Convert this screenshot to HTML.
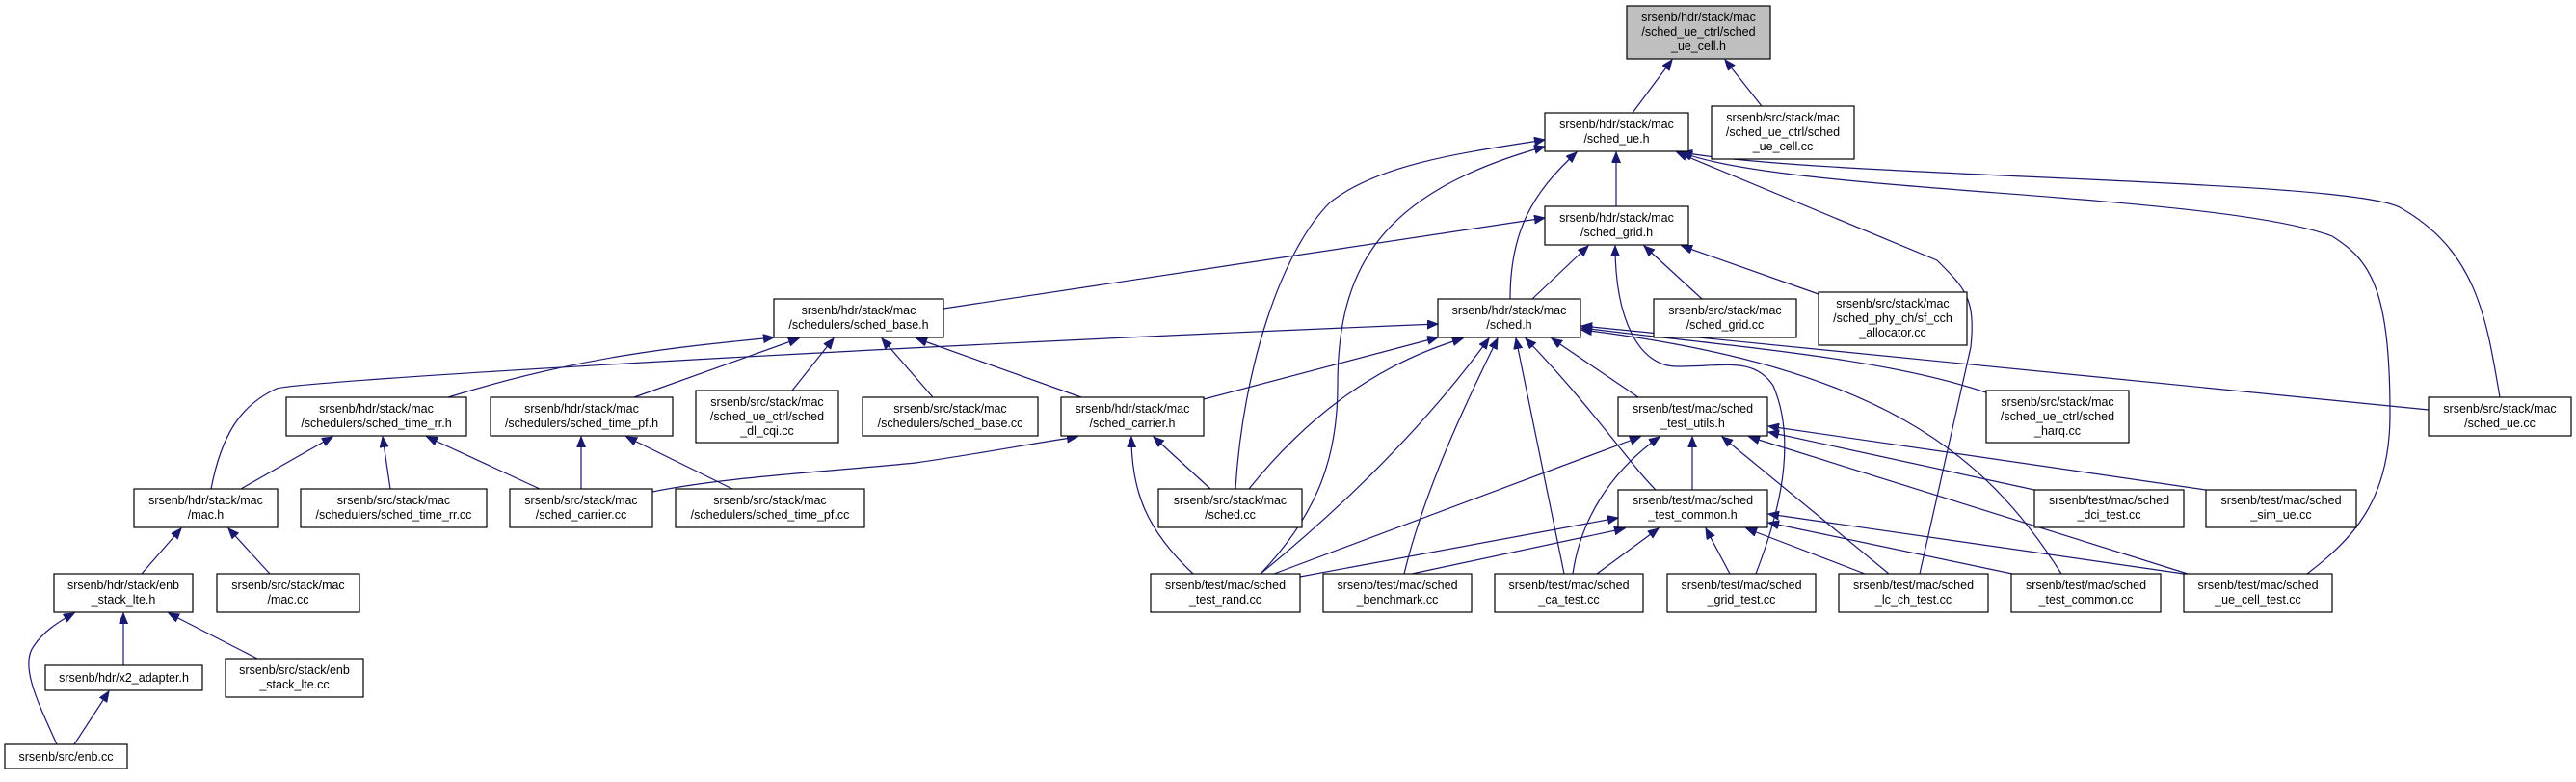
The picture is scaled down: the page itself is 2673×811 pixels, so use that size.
<!DOCTYPE html>
<html><head><meta charset="utf-8"><style>
html,body{margin:0;padding:0;background:#fff;}
svg{display:block;}
text{font-family:"Liberation Sans",Arial,sans-serif;font-size:12.5px;fill:#000;text-anchor:middle;}
.n{fill:#fff;stroke:#000;stroke-width:1.2;}
.e{fill:none;stroke:#191970;stroke-width:1.2;}
</style></head><body>
<svg width="2673" height="811" viewBox="0 0 2673 811" xmlns="http://www.w3.org/2000/svg">
<defs>
<marker id="a" markerUnits="userSpaceOnUse" markerWidth="12" markerHeight="10" refX="11" refY="4.5" orient="auto">
<path d="M0,0 L11,4.5 L0,9 z" fill="#191970" stroke="#191970"/>
</marker>
</defs>
<g class="edges">
<!-- to top -->
<path class="e" marker-end="url(#a)" d="M1694,117 L1735,62"/>
<path class="e" marker-end="url(#a)" d="M1828,110 L1790,62"/>
<!-- to sched_ue.h -->
<path class="e" marker-end="url(#a)" d="M1677,214 L1677,158"/>
<path class="e" marker-end="url(#a)" d="M1567,310 C1567,240 1590,200 1636,158"/>
<path class="e" marker-end="url(#a)" d="M1282,507 C1290,380 1330,260 1380,210 C1430,170 1520,158 1603,145"/>
<path class="e" marker-end="url(#a)" d="M1308,595 C1370,530 1388,470 1388,400 C1388,280 1430,200 1603,152"/>
<path class="e" marker-end="url(#a)" d="M2594,412 C2580,330 2570,260 2490,215 C2430,185 1900,185 1745,158"/>
<path class="e" marker-end="url(#a)" d="M2394,595 C2440,560 2480,520 2480,430 C2480,300 2460,270 2420,245 C2300,200 1850,200 1745,158"/>
<path class="e" marker-end="url(#a)" d="M1992,595 L2045,360 C2050,310 2040,300 2010,270 L1740,158"/>
<!-- to sched_grid.h -->
<path class="e" marker-end="url(#a)" d="M979,320 L1603,226"/>
<path class="e" marker-end="url(#a)" d="M1590,310 L1648,255"/>
<path class="e" marker-end="url(#a)" d="M1822,595 C1835,560 1870,470 1840,400 C1820,370 1790,380 1740,380 C1700,380 1676,330 1676,255"/>
<path class="e" marker-end="url(#a)" d="M1766,310 L1706,255"/>
<path class="e" marker-end="url(#a)" d="M1887,305 L1745,255"/>
<!-- to sched.h -->
<path class="e" marker-end="url(#a)" d="M219,507 C230,450 250,420 287,403 C310,395 900,360 1492,336"/>
<path class="e" marker-end="url(#a)" d="M1249,414 L1492,350"/>
<path class="e" marker-end="url(#a)" d="M1296,507 C1350,440 1420,380 1518,351"/>
<path class="e" marker-end="url(#a)" d="M1308,595 C1400,520 1480,440 1545,351"/>
<path class="e" marker-end="url(#a)" d="M1457,595 C1480,500 1530,400 1554,351"/>
<path class="e" marker-end="url(#a)" d="M1623,595 L1573,351"/>
<path class="e" marker-end="url(#a)" d="M1700,412 L1610,351"/>
<path class="e" marker-end="url(#a)" d="M1718,508 C1690,480 1650,420 1583,351"/>
<path class="e" marker-end="url(#a)" d="M2061,407 C1950,370 1800,360 1641,340"/>
<path class="e" marker-end="url(#a)" d="M2520,425 L1641,338"/>
<path class="e" marker-end="url(#a)" d="M2139,595 C2060,470 1950,380 1641,342"/>
<!-- to sched_base.h -->
<path class="e" marker-end="url(#a)" d="M465,412 C600,370 700,360 803,350"/>
<path class="e" marker-end="url(#a)" d="M658,412 L829,351"/>
<path class="e" marker-end="url(#a)" d="M822,405 L865,351"/>
<path class="e" marker-end="url(#a)" d="M968,412 L915,351"/>
<path class="e" marker-end="url(#a)" d="M1122,412 L951,351"/>
<!-- to time_rr.h -->
<path class="e" marker-end="url(#a)" d="M250,507 L345,453"/>
<path class="e" marker-end="url(#a)" d="M405,507 L397,453"/>
<path class="e" marker-end="url(#a)" d="M560,507 L443,453"/>
<!-- to time_pf.h -->
<path class="e" marker-end="url(#a)" d="M603,507 L603,453"/>
<path class="e" marker-end="url(#a)" d="M760,507 L650,453"/>
<!-- to carrier.h -->
<path class="e" marker-end="url(#a)" d="M677,510 C750,495 850,490 950,480 C1020,470 1070,460 1118,453"/>
<path class="e" marker-end="url(#a)" d="M1256,507 L1197,453"/>
<path class="e" marker-end="url(#a)" d="M1238,595 C1190,550 1174,510 1174,453"/>
<!-- mac.h -->
<path class="e" marker-end="url(#a)" d="M147,595 L188,548"/>
<path class="e" marker-end="url(#a)" d="M280,595 L237,548"/>
<!-- enb_stack_lte.h -->
<path class="e" marker-end="url(#a)" d="M128,690 L128,636"/>
<path class="e" marker-end="url(#a)" d="M267,683 L175,636"/>
<path class="e" marker-end="url(#a)" d="M59,772 C40,730 20,690 35,670 C45,655 60,645 77,636"/>
<path class="e" marker-end="url(#a)" d="M77,772 L113,717"/>
<!-- test_utils.h -->
<path class="e" marker-end="url(#a)" d="M1322,595 L1702,453"/>
<path class="e" marker-end="url(#a)" d="M1632,595 C1640,540 1670,490 1722,453"/>
<path class="e" marker-end="url(#a)" d="M1756,508 L1756,453"/>
<path class="e" marker-end="url(#a)" d="M1960,595 L1787,453"/>
<path class="e" marker-end="url(#a)" d="M2270,595 L1815,453"/>
<path class="e" marker-end="url(#a)" d="M2111,508 L1835,448"/>
<path class="e" marker-end="url(#a)" d="M2289,508 L1835,442"/>
<!-- test_common.h -->
<path class="e" marker-end="url(#a)" d="M1349,598 L1679,537"/>
<path class="e" marker-end="url(#a)" d="M1465,595 L1686,548"/>
<path class="e" marker-end="url(#a)" d="M1657,595 L1721,548"/>
<path class="e" marker-end="url(#a)" d="M1795,595 L1770,548"/>
<path class="e" marker-end="url(#a)" d="M1935,595 L1812,548"/>
<path class="e" marker-end="url(#a)" d="M2088,595 L1835,542"/>
<path class="e" marker-end="url(#a)" d="M2266,595 L1835,533"/>
</g>
<g class="nodes">
<rect x="1688" y="6" width="149" height="55" fill="#bfbfbf" stroke="#000" stroke-width="1.2"/>
<text x="1762.5" y="22">srsenb/hdr/stack/mac</text><text x="1762.5" y="37">/sched_ue_ctrl/sched</text><text x="1762.5" y="52">_ue_cell.h</text>

<rect class="n" x="1603" y="117" width="149" height="40"/><text x="1677.5" y="133">srsenb/hdr/stack/mac</text><text x="1677.5" y="148">/sched_ue.h</text>
<rect class="n" x="1776" y="110" width="148" height="55"/><text x="1850" y="126">srsenb/src/stack/mac</text><text x="1850" y="141">/sched_ue_ctrl/sched</text><text x="1850" y="156">_ue_cell.cc</text>
<rect class="n" x="1603" y="214" width="149" height="40"/><text x="1677.5" y="230">srsenb/hdr/stack/mac</text><text x="1677.5" y="245">/sched_grid.h</text>
<rect class="n" x="803" y="310" width="176" height="40"/><text x="891" y="326">srsenb/hdr/stack/mac</text><text x="891" y="341">/schedulers/sched_base.h</text>
<rect class="n" x="1492" y="310" width="148" height="40"/><text x="1566" y="326">srsenb/hdr/stack/mac</text><text x="1566" y="341">/sched.h</text>
<rect class="n" x="1716" y="310" width="148" height="40"/><text x="1790" y="326">srsenb/src/stack/mac</text><text x="1790" y="341">/sched_grid.cc</text>
<rect class="n" x="1887" y="303" width="154" height="55"/><text x="1964" y="319">srsenb/src/stack/mac</text><text x="1964" y="334">/sched_phy_ch/sf_cch</text><text x="1964" y="349">_allocator.cc</text>
<rect class="n" x="297" y="412" width="187" height="40"/><text x="390.5" y="428">srsenb/hdr/stack/mac</text><text x="390.5" y="443">/schedulers/sched_time_rr.h</text>
<rect class="n" x="509" y="412" width="189" height="40"/><text x="603.5" y="428">srsenb/hdr/stack/mac</text><text x="603.5" y="443">/schedulers/sched_time_pf.h</text>
<rect class="n" x="722" y="405" width="148" height="54"/><text x="796" y="421">srsenb/src/stack/mac</text><text x="796" y="436">/sched_ue_ctrl/sched</text><text x="796" y="451">_dl_cqi.cc</text>
<rect class="n" x="895" y="412" width="182" height="40"/><text x="986" y="428">srsenb/src/stack/mac</text><text x="986" y="443">/schedulers/sched_base.cc</text>
<rect class="n" x="1101" y="412" width="148" height="40"/><text x="1175" y="428">srsenb/hdr/stack/mac</text><text x="1175" y="443">/sched_carrier.h</text>
<rect class="n" x="1679" y="412" width="155" height="40"/><text x="1756.5" y="428">srsenb/test/mac/sched</text><text x="1756.5" y="443">_test_utils.h</text>
<rect class="n" x="2061" y="405" width="148" height="54"/><text x="2135" y="421">srsenb/src/stack/mac</text><text x="2135" y="436">/sched_ue_ctrl/sched</text><text x="2135" y="451">_harq.cc</text>
<rect class="n" x="2520" y="412" width="148" height="40"/><text x="2594" y="428">srsenb/src/stack/mac</text><text x="2594" y="443">/sched_ue.cc</text>
<rect class="n" x="139" y="507" width="149" height="40"/><text x="213.5" y="523">srsenb/hdr/stack/mac</text><text x="213.5" y="538">/mac.h</text>
<rect class="n" x="312" y="507" width="193" height="40"/><text x="408.5" y="523">srsenb/src/stack/mac</text><text x="408.5" y="538">/schedulers/sched_time_rr.cc</text>
<rect class="n" x="529" y="507" width="148" height="40"/><text x="603" y="523">srsenb/src/stack/mac</text><text x="603" y="538">/sched_carrier.cc</text>
<rect class="n" x="701" y="507" width="196" height="40"/><text x="799" y="523">srsenb/src/stack/mac</text><text x="799" y="538">/schedulers/sched_time_pf.cc</text>
<rect class="n" x="1202" y="507" width="149" height="40"/><text x="1276.5" y="523">srsenb/src/stack/mac</text><text x="1276.5" y="538">/sched.cc</text>
<rect class="n" x="1679" y="508" width="155" height="39"/><text x="1756.5" y="523">srsenb/test/mac/sched</text><text x="1756.5" y="538">_test_common.h</text>
<rect class="n" x="2111" y="508" width="155" height="39"/><text x="2188.5" y="523">srsenb/test/mac/sched</text><text x="2188.5" y="538">_dci_test.cc</text>
<rect class="n" x="2289" y="508" width="156" height="39"/><text x="2367" y="523">srsenb/test/mac/sched</text><text x="2367" y="538">_sim_ue.cc</text>
<rect class="n" x="56" y="595" width="144" height="40"/><text x="128" y="611">srsenb/hdr/stack/enb</text><text x="128" y="626">_stack_lte.h</text>
<rect class="n" x="225" y="595" width="148" height="40"/><text x="299" y="611">srsenb/src/stack/mac</text><text x="299" y="626">/mac.cc</text>
<rect class="n" x="1194" y="595" width="155" height="40"/><text x="1271.5" y="611">srsenb/test/mac/sched</text><text x="1271.5" y="626">_test_rand.cc</text>
<rect class="n" x="1373" y="595" width="154" height="40"/><text x="1450" y="611">srsenb/test/mac/sched</text><text x="1450" y="626">_benchmark.cc</text>
<rect class="n" x="1551" y="595" width="154" height="40"/><text x="1628" y="611">srsenb/test/mac/sched</text><text x="1628" y="626">_ca_test.cc</text>
<rect class="n" x="1730" y="595" width="154" height="40"/><text x="1807" y="611">srsenb/test/mac/sched</text><text x="1807" y="626">_grid_test.cc</text>
<rect class="n" x="1908" y="595" width="155" height="40"/><text x="1985.5" y="611">srsenb/test/mac/sched</text><text x="1985.5" y="626">_lc_ch_test.cc</text>
<rect class="n" x="2087" y="595" width="155" height="40"/><text x="2164.5" y="611">srsenb/test/mac/sched</text><text x="2164.5" y="626">_test_common.cc</text>
<rect class="n" x="2266" y="595" width="154" height="40"/><text x="2343" y="611">srsenb/test/mac/sched</text><text x="2343" y="626">_ue_cell_test.cc</text>
<rect class="n" x="47" y="690" width="163" height="26"/><text x="128.5" y="707">srsenb/hdr/x2_adapter.h</text>
<rect class="n" x="234" y="683" width="143" height="40"/><text x="305.5" y="699">srsenb/src/stack/enb</text><text x="305.5" y="714">_stack_lte.cc</text>
<rect class="n" x="5" y="772" width="127" height="25"/><text x="68.5" y="789">srsenb/src/enb.cc</text>
</g>
</svg>
</body></html>
